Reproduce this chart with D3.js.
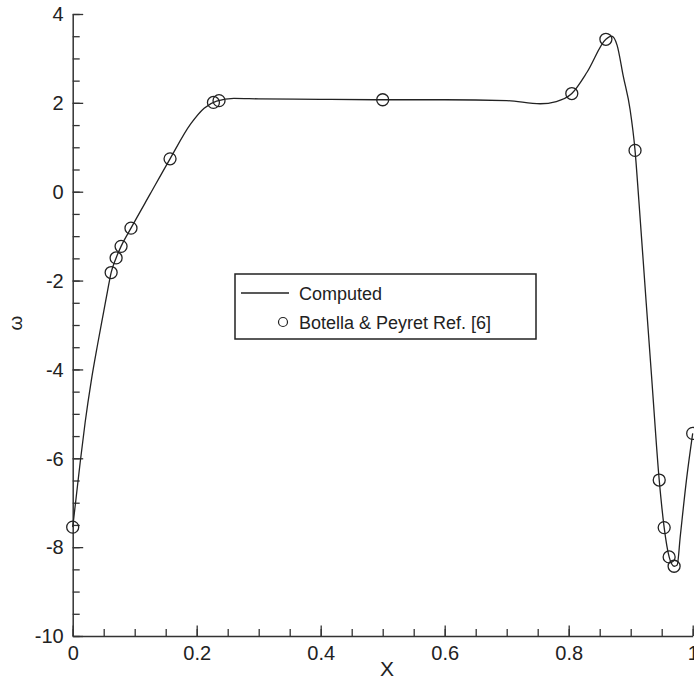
<!DOCTYPE html>
<html>
<head>
<meta charset="utf-8">
<script src="https://cdn.jsdelivr.net/npm/d3@7"></script>
<style>
  body { margin: 0; background: #fff; }
  svg text { font-family: "Liberation Sans", Arial, sans-serif; fill: #222; }
</style>
</head>
<body>
<script>
"use strict";
// computed curve
var curveX = [0, 0.005, 0.012, 0.02, 0.03, 0.04, 0.05, 0.056, 0.062, 0.070, 0.078, 0.094, 0.125, 0.157,
    0.19, 0.212, 0.232, 0.26, 0.3, 0.4, 0.5, 0.6, 0.7, 0.754, 0.78, 0.805, 0.83, 0.86, 0.869,
    0.878, 0.888, 0.899, 0.907, 0.913, 0.925, 0.934, 0.946, 0.954, 0.962, 0.970, 0.975, 0.98, 0.99, 1.0];
var curveY = [-7.55, -6.95, -6.1, -5.2, -4.25, -3.45, -2.7, -2.25, -1.82, -1.49, -1.23, -0.82, -0.05, 0.74,
    1.52, 1.88, 2.04, 2.1, 2.09, 2.08, 2.07, 2.07, 2.05, 1.98, 2.03, 2.21, 2.7, 3.43, 3.5,
    3.3, 2.6, 1.85, 0.93, -0.17, -2.5, -4.22, -6.49, -7.56, -8.22, -8.43, -8.4, -7.75, -6.48, -5.44];
// Botella & Peyret reference points
var refX = [0, 0.062, 0.070, 0.078, 0.094, 0.157, 0.227, 0.236, 0.5, 0.805, 0.86, 0.907, 0.946, 0.954, 0.962, 0.970, 1.0];
var refY = [-7.55, -1.82, -1.49, -1.23, -0.82, 0.74, 2.01, 2.05, 2.07, 2.21, 3.43, 0.93, -6.49, -7.56, -8.22, -8.43, -5.44];
var xTicks = [0, 0.2, 0.4, 0.6, 0.8, 1];
var xTickLabels = ["0", "0.2", "0.4", "0.6", "0.8", "1"];
var yTicks = [-10, -8, -6, -4, -2, 0, 2, 4];
var yTickLabels = ["-10", "-8", "-6", "-4", "-2", "0", "2", "4"];
var legendLabels = ["Computed", "Botella & Peyret Ref. [6]"];

var W = 694, H = 680;
var x = d3.scaleLinear().domain([0, 1]).range([72.7, 692.7]);
var y = d3.scaleLinear().domain([-10, 4]).range([636, 14]);

var svg = d3.select("body").append("svg")
    .attr("width", W).attr("height", H);

// minor ticks
var xMinor = d3.range(0, 1.0001, 0.05);
var yMinor = d3.range(-10, 4.0001, 0.5);
svg.append("g")
    .attr("transform", "translate(0," + y(-10) + ")")
    .call(d3.axisBottom(x).tickValues(xMinor).tickSizeInner(-7).tickSizeOuter(0).tickFormat(""))
    .call(function(g) { g.select(".domain").remove(); });
svg.append("g")
    .attr("transform", "translate(" + x(0) + ",0)")
    .call(d3.axisLeft(y).tickValues(yMinor).tickSizeInner(-7).tickSizeOuter(0).tickFormat(""))
    .call(function(g) { g.select(".domain").remove(); });

// major axes
var gx = svg.append("g")
    .attr("transform", "translate(0," + y(-10) + ")")
    .call(d3.axisBottom(x).tickValues(xTicks).tickSizeInner(-10.5).tickSizeOuter(0)
        .tickPadding(10).tickFormat(function(d, i) { return xTickLabels[i]; }));
var gy = svg.append("g")
    .attr("transform", "translate(" + x(0) + ",0)")
    .call(d3.axisLeft(y).tickValues(yTicks).tickSizeInner(-10.5).tickSizeOuter(0)
        .tickPadding(9).tickFormat(function(d, i) { return yTickLabels[i]; }));
svg.selectAll(".tick line").attr("stroke", "#333").attr("stroke-width", 1.3);
svg.selectAll(".domain").attr("stroke", "#333").attr("stroke-width", 1.5);
svg.selectAll(".tick text").style("font-size", "20px").attr("fill", "#222");
gy.selectAll(".tick text").attr("dy", "0.34em");

// axis titles
svg.append("text")
    .attr("x", 387).attr("y", 676)
    .attr("text-anchor", "middle")
    .style("font-size", "21px")
    .text("X");
svg.append("text")
    .attr("transform", "translate(22,323) rotate(-90)")
    .attr("text-anchor", "middle")
    .style("font-size", "19px")
    .text("ω");

// computed line
var curveData = curveX.map(function(d, i) { return [d, curveY[i]]; });
var line = d3.line()
    .x(function(d) { return x(d[0]); })
    .y(function(d) { return y(d[1]); })
    .curve(d3.curveMonotoneX);
svg.append("path")
    .datum(curveData)
    .attr("d", line)
    .attr("fill", "none")
    .attr("stroke", "#222")
    .attr("stroke-width", 1.3);

// reference markers
var refData = refX.map(function(d, i) { return [d, refY[i]]; });
svg.append("g").selectAll("circle")
    .data(refData)
    .enter().append("circle")
    .attr("cx", function(d) { return x(d[0]); })
    .attr("cy", function(d) { return y(d[1]); })
    .attr("r", 6)
    .attr("fill", "none")
    .attr("stroke", "#222")
    .attr("stroke-width", 1.3);

// legend
var lg = svg.append("g");
lg.append("rect")
    .attr("x", 235).attr("y", 274).attr("width", 301).attr("height", 65)
    .attr("fill", "#fff").attr("stroke", "#222").attr("stroke-width", 1.5);
lg.append("line")
    .attr("x1", 241).attr("x2", 289).attr("y1", 293).attr("y2", 293)
    .attr("stroke", "#222").attr("stroke-width", 1.3);
lg.append("text")
    .attr("x", 299).attr("y", 299.5)
    .style("font-size", "18px")
    .text(legendLabels[0]);
lg.append("circle")
    .attr("cx", 283).attr("cy", 322).attr("r", 4.5)
    .attr("fill", "none").attr("stroke", "#222").attr("stroke-width", 1.2);
lg.append("text")
    .attr("x", 299).attr("y", 328.5)
    .style("font-size", "18px")
    .text(legendLabels[1]);
</script>
</body>
</html>
